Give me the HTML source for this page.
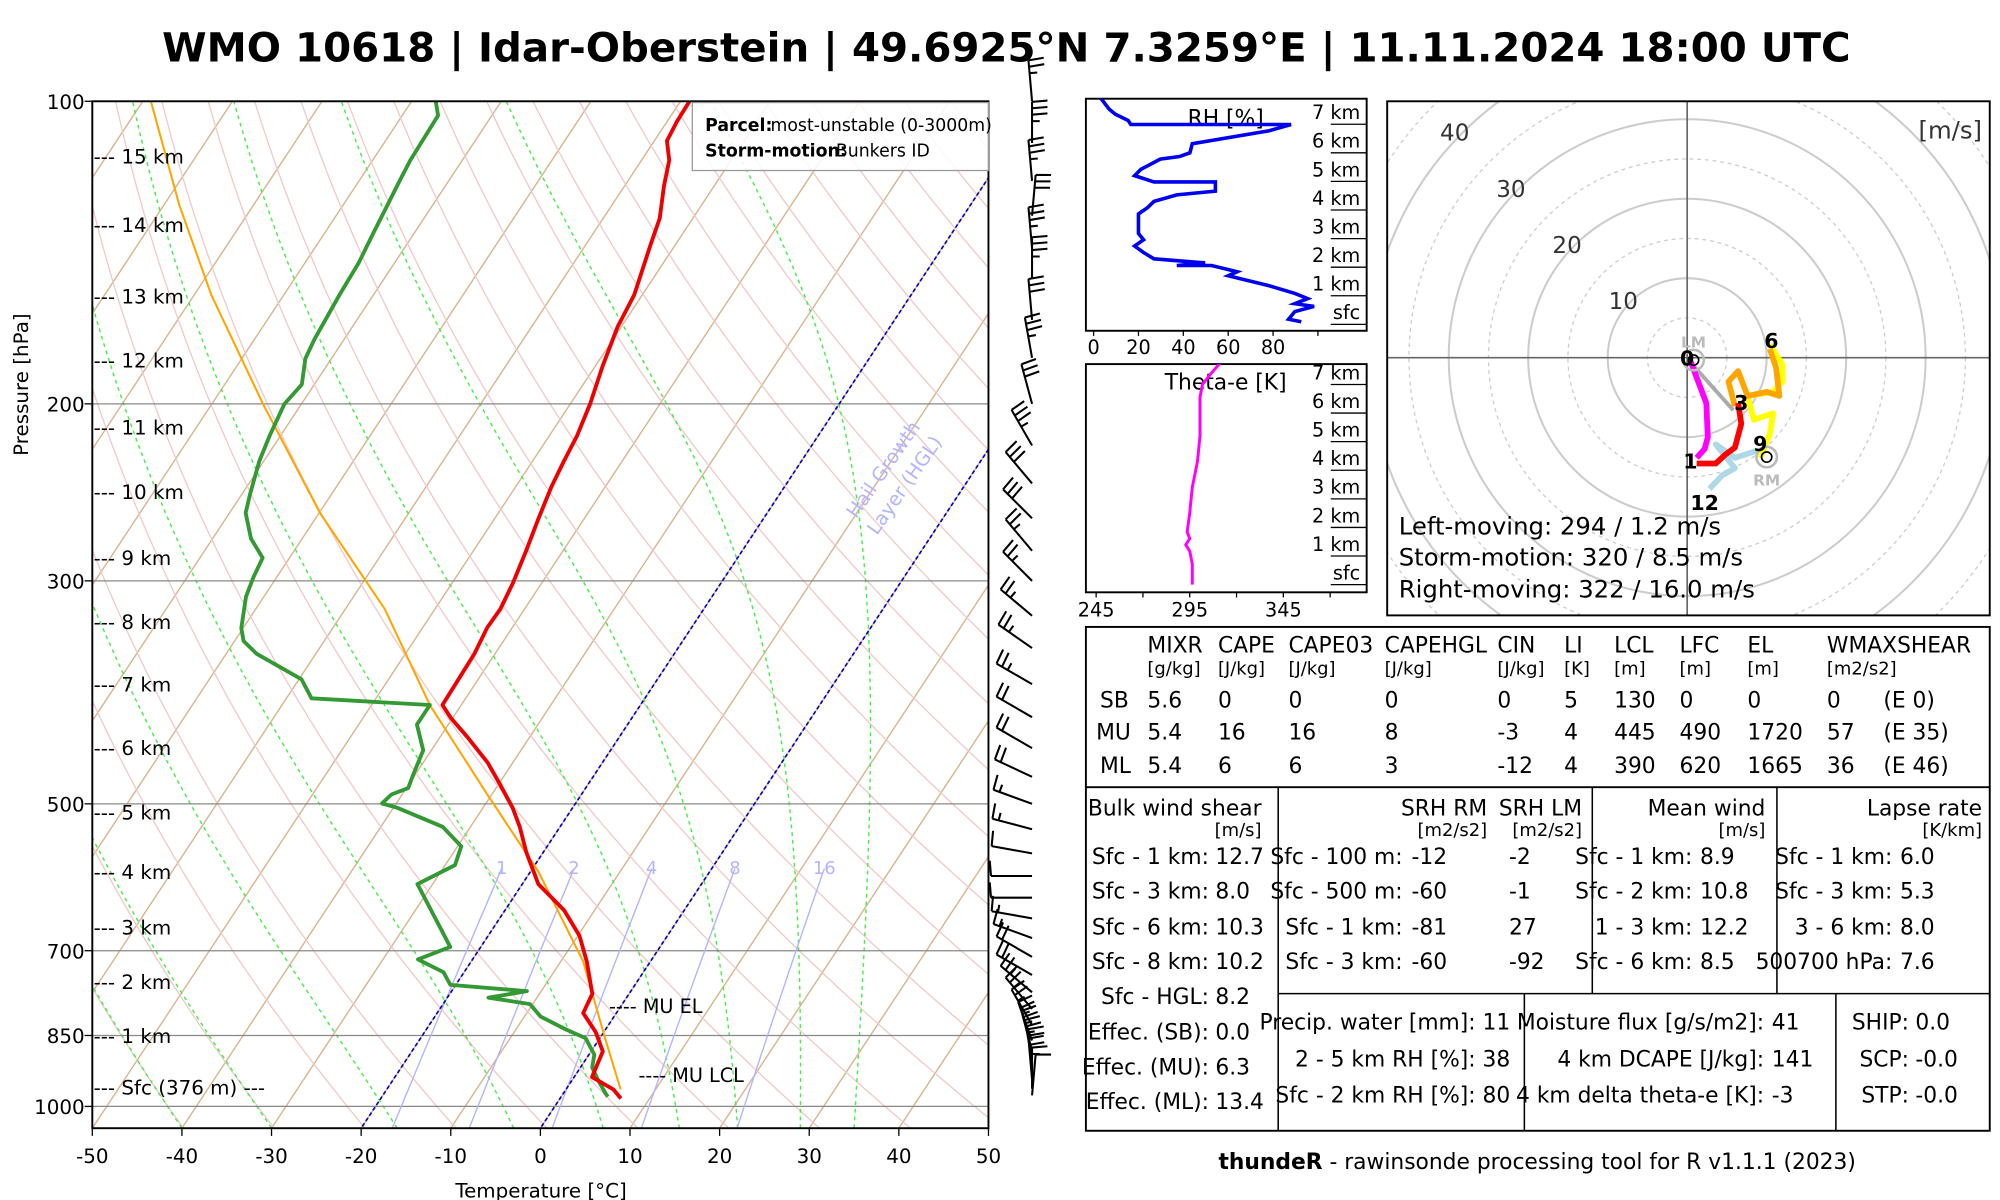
<!DOCTYPE html>
<html><head><meta charset="utf-8"><style>
html,body{margin:0;padding:0;background:#fff;}
svg{display:block;font-family:"DejaVu Sans","Liberation Sans",sans-serif;}
.t{font-size:15.5px;fill:#000;}
.tc{font-size:17px;fill:#000;}
.th{font-size:19px;fill:#000;}
.tk{font-size:15px;fill:#000;}
.tu{font-size:14px;fill:#000;}
</style></head><body>
<svg id="root" width="2000" height="1200" viewBox="0 0 1560 936" preserveAspectRatio="none" xmlns="http://www.w3.org/2000/svg">
<defs>
<clipPath id="skewclip"><rect x="72" y="79" width="699" height="801"/></clipPath>
<clipPath id="hodoclip"><rect x="1082" y="79" width="470" height="401"/></clipPath>
<clipPath id="rhclip"><rect x="847" y="77" width="219" height="181"/></clipPath>
<clipPath id="thclip"><rect x="847" y="284" width="219" height="178"/></clipPath>
</defs>
<text x="785" y="48" text-anchor="middle" font-size="31" font-weight="bold" textLength="1317" lengthAdjust="spacingAndGlyphs">WMO 10618 | Idar-Oberstein | 49.6925°N 7.3259°E | 11.11.2024 18:00 UTC</text>

<g id="skew">
<g id="skewbg" clip-path="url(#skewclip)"></g>
<g id="skewlines" clip-path="url(#skewclip)"></g>
<rect x="72" y="79" width="699" height="801" fill="none" stroke="#000" stroke-width="1.5"/>
<g id="skewaxes"></g>
<text x="422" y="934" text-anchor="middle" class="t">Temperature [°C]</text>
<text transform="translate(22,300) rotate(-90)" text-anchor="middle" class="t">Pressure [hPa]</text>
<g>
<rect x="540" y="80" width="231" height="53" fill="#fff" fill-opacity="0.85" stroke="#999" stroke-width="1"/>
<text x="550" y="102" font-size="13.5" font-weight="bold">Parcel:</text>
<text x="601" y="102" font-size="13.5">most-unstable (0-3000m)</text>
<text x="550" y="122" font-size="13.5" font-weight="bold">Storm-motion:</text>
<text x="652" y="122" font-size="13.5">Bunkers ID</text>
</g>
<text transform="translate(668,405) rotate(-55)" font-size="15" fill="#b4b4ff">Hail Growth</text>
<text transform="translate(684,418) rotate(-55)" font-size="15" fill="#b4b4ff">Layer (HGL)</text>
<text x="475" y="790" font-size="15">---- MU EL</text>
<text x="498" y="844" font-size="15">---- MU LCL</text>
</g>

<g id="barbs"></g>

<g id="rh">
<rect x="847" y="77" width="219" height="181" fill="none" stroke="#000" stroke-width="1.5"/>
<text x="956" y="98" text-anchor="middle" class="tc">RH [%]</text>
</g>
<g id="th">
<rect x="847" y="284" width="219" height="178" fill="none" stroke="#000" stroke-width="1.5"/>
<text x="956" y="304" text-anchor="middle" class="tc">Theta-e [K]</text>
</g>

<g id="hodo">
<g id="hodobg" clip-path="url(#hodoclip)"></g>
<g id="hodolines"></g>
<rect x="1082" y="79" width="470" height="401" fill="none" stroke="#000" stroke-width="1.5"/>
<text x="1546" y="108" text-anchor="end" font-size="19" fill="#333">[m/s]</text>
<text x="1091" y="417" class="th">Left-moving: 294 / 1.2 m/s</text>
<text x="1091" y="441" class="th">Storm-motion: 320 / 8.5 m/s</text>
<text x="1091" y="466" class="th">Right-moving: 322 / 16.0 m/s</text>
</g>

<g id="table">
<rect x="847" y="489" width="705" height="393" fill="none" stroke="#000" stroke-width="1.5"/>
<line x1="847" y1="614" x2="1552" y2="614" stroke="#000" stroke-width="1.5"/>
<line x1="997" y1="614" x2="997" y2="882" stroke="#000" stroke-width="1.2"/>
<line x1="1242" y1="614" x2="1242" y2="775" stroke="#000" stroke-width="1.2"/>
<line x1="1386" y1="614" x2="1386" y2="775" stroke="#000" stroke-width="1.2"/>
<line x1="997" y1="775" x2="1552" y2="775" stroke="#000" stroke-width="1.2"/>
<line x1="1189" y1="775" x2="1189" y2="882" stroke="#000" stroke-width="1.2"/>
<line x1="1432" y1="775" x2="1432" y2="882" stroke="#000" stroke-width="1.2"/>
<g>
<text x="895" y="509" class="tc">MIXR</text><text x="950" y="509" class="tc">CAPE</text><text x="1005" y="509" class="tc">CAPE03</text><text x="1080" y="509" class="tc">CAPEHGL</text><text x="1168" y="509" class="tc">CIN</text><text x="1220" y="509" class="tc">LI</text><text x="1259" y="509" class="tc">LCL</text><text x="1310" y="509" class="tc">LFC</text><text x="1363" y="509" class="tc">EL</text><text x="1425" y="509" class="tc">WMAXSHEAR</text>
<text x="895" y="526" class="tu">[g/kg]</text><text x="950" y="526" class="tu">[J/kg]</text><text x="1005" y="526" class="tu">[J/kg]</text><text x="1080" y="526" class="tu">[J/kg]</text><text x="1168" y="526" class="tu">[J/kg]</text><text x="1220" y="526" class="tu">[K]</text><text x="1259" y="526" class="tu">[m]</text><text x="1310" y="526" class="tu">[m]</text><text x="1363" y="526" class="tu">[m]</text><text x="1425" y="526" class="tu">[m2/s2]</text>
<text x="858" y="552" class="tc">SB</text><text x="895" y="552" class="tc">5.6</text><text x="950" y="552" class="tc">0</text><text x="1005" y="552" class="tc">0</text><text x="1080" y="552" class="tc">0</text><text x="1168" y="552" class="tc">0</text><text x="1220" y="552" class="tc">5</text><text x="1259" y="552" class="tc">130</text><text x="1310" y="552" class="tc">0</text><text x="1363" y="552" class="tc">0</text><text x="1425" y="552" class="tc">0</text><text x="1469" y="552" class="tc">(E 0)</text>
<text x="855" y="577" class="tc">MU</text><text x="895" y="577" class="tc">5.4</text><text x="950" y="577" class="tc">16</text><text x="1005" y="577" class="tc">16</text><text x="1080" y="577" class="tc">8</text><text x="1168" y="577" class="tc">-3</text><text x="1220" y="577" class="tc">4</text><text x="1259" y="577" class="tc">445</text><text x="1310" y="577" class="tc">490</text><text x="1363" y="577" class="tc">1720</text><text x="1425" y="577" class="tc">57</text><text x="1469" y="577" class="tc">(E 35)</text>
<text x="858" y="603" class="tc">ML</text><text x="895" y="603" class="tc">5.4</text><text x="950" y="603" class="tc">6</text><text x="1005" y="603" class="tc">6</text><text x="1080" y="603" class="tc">3</text><text x="1168" y="603" class="tc">-12</text><text x="1220" y="603" class="tc">4</text><text x="1259" y="603" class="tc">390</text><text x="1310" y="603" class="tc">620</text><text x="1363" y="603" class="tc">1665</text><text x="1425" y="603" class="tc">36</text><text x="1469" y="603" class="tc">(E 46)</text>
</g>
<g text-anchor="end">
<text x="984" y="636" class="tc">Bulk wind shear</text><text x="984" y="652" class="tu">[m/s]</text>
<text x="1160" y="636" class="tc">SRH RM</text><text x="1234" y="636" class="tc">SRH LM</text>
<text x="1160" y="652" class="tu">[m2/s2]</text><text x="1234" y="652" class="tu">[m2/s2]</text>
<text x="1377" y="636" class="tc">Mean wind</text><text x="1377" y="652" class="tu">[m/s]</text>
<text x="1546" y="636" class="tc">Lapse rate</text><text x="1546" y="652" class="tu">[K/km]</text>
</g>
<g text-anchor="end">
<text x="943" y="674" class="tc">Sfc - 1 km:</text><text x="943" y="701" class="tc">Sfc - 3 km:</text><text x="943" y="729" class="tc">Sfc - 6 km:</text><text x="943" y="756" class="tc">Sfc - 8 km:</text><text x="943" y="783" class="tc">Sfc - HGL:</text><text x="943" y="811" class="tc">Effec. (SB):</text><text x="943" y="838" class="tc">Effec. (MU):</text><text x="943" y="865" class="tc">Effec. (ML):</text>
<text x="1094" y="674" class="tc">Sfc - 100 m:</text><text x="1094" y="701" class="tc">Sfc - 500 m:</text><text x="1094" y="729" class="tc">Sfc - 1 km:</text><text x="1094" y="756" class="tc">Sfc - 3 km:</text>
<text x="1320" y="674" class="tc">Sfc - 1 km:</text><text x="1320" y="701" class="tc">Sfc - 2 km:</text><text x="1320" y="729" class="tc">1 - 3 km:</text><text x="1320" y="756" class="tc">Sfc - 6 km:</text>
<text x="1476" y="674" class="tc">Sfc - 1 km:</text><text x="1476" y="701" class="tc">Sfc - 3 km:</text><text x="1476" y="729" class="tc">3 - 6 km:</text><text x="1476" y="756" class="tc">500700 hPa:</text>
<text x="1178" y="803" class="tc">Precip. water [mm]: 11</text><text x="1178" y="832" class="tc">2 - 5 km RH [%]: 38</text><text x="1178" y="860" class="tc">Sfc - 2 km RH [%]: 80</text>
<text x="1376" y="803" class="tc">Moisture flux [g/s/m2]:</text><text x="1376" y="832" class="tc">4 km DCAPE [J/kg]:</text><text x="1376" y="860" class="tc">4 km delta theta-e [K]:</text>
<text x="1489" y="803" class="tc">SHIP:</text><text x="1489" y="832" class="tc">SCP:</text><text x="1489" y="860" class="tc">STP:</text>
</g>
<g>
<text x="948" y="674" class="tc">12.7</text><text x="948" y="701" class="tc">8.0</text><text x="948" y="729" class="tc">10.3</text><text x="948" y="756" class="tc">10.2</text><text x="948" y="783" class="tc">8.2</text><text x="948" y="811" class="tc">0.0</text><text x="948" y="838" class="tc">6.3</text><text x="948" y="865" class="tc">13.4</text>
<text x="1101" y="674" class="tc">-12</text><text x="1101" y="701" class="tc">-60</text><text x="1101" y="729" class="tc">-81</text><text x="1101" y="756" class="tc">-60</text>
<text x="1177" y="674" class="tc">-2</text><text x="1177" y="701" class="tc">-1</text><text x="1177" y="729" class="tc">27</text><text x="1177" y="756" class="tc">-92</text>
<text x="1326" y="674" class="tc">8.9</text><text x="1326" y="701" class="tc">10.8</text><text x="1326" y="729" class="tc">12.2</text><text x="1326" y="756" class="tc">8.5</text>
<text x="1482" y="674" class="tc">6.0</text><text x="1482" y="701" class="tc">5.3</text><text x="1482" y="729" class="tc">8.0</text><text x="1482" y="756" class="tc">7.6</text>
<text x="1382" y="803" class="tc">41</text><text x="1382" y="832" class="tc">141</text><text x="1382" y="860" class="tc">-3</text>
<text x="1494" y="803" class="tc">0.0</text><text x="1494" y="832" class="tc">-0.0</text><text x="1494" y="860" class="tc">-0.0</text>
</g>
</g>
<text x="1199" y="912" text-anchor="middle" font-size="17"><tspan font-weight="bold">thundeR</tspan> - rawinsonde processing tool for R v1.1.1 (2023)</text>
</svg>
<script>
// ---------- data ----------
const tempP=[100,104.8,109.5,114.5,121.4,130.7,138.6,155.8,167.7,183.2,200,215.2,228,242,260.5,280.4,301.7,320,334,354.6,398.7,410.7,429.4,455,478.5,504.5,527,558.6,601,638,676.5,717.5,772.7,807.6,843.5,881.5,935,962,982];
const tempT=[-59,-58.9,-58.6,-56.9,-55.6,-53.7,-52.8,-50.9,-50.4,-49.2,-47.8,-46.9,-46.5,-46,-45.1,-44.1,-43.2,-42.7,-42.8,-42.3,-42.1,-40.2,-36.9,-32.8,-29.8,-26.7,-24.5,-21.9,-18.2,-13.4,-9.8,-7.1,-4.1,-3.7,-0.9,1.3,2,5.3,6.8];
const dewP=[100,103.3,114.5,119.6,134.6,144.8,155.8,172.6,180.3,191.3,200,215.2,228,245.8,256.8,272.4,284.6,297.5,311,334.4,344.3,354.6,376,392.6,398.7,417,442.3,468.5,482.3,489.4,499.6,504.5,527,551,575.3,601,694,714,735.3,757,768,779.6,791,814,838.5,855,888,914.5,941.5,969,978];
const dewT=[-87.3,-86,-85.8,-85.5,-84.6,-84,-83.8,-83.3,-82.9,-81.4,-81.9,-81.2,-80.5,-79.1,-78.2,-75.7,-73,-72.6,-72,-70.2,-69,-66.6,-59.7,-57.2,-43.5,-43.5,-40.9,-40.2,-39.8,-41.2,-41.6,-39.6,-33.1,-29.6,-28.9,-31.7,-23.4,-26.1,-22.3,-20.6,-11.6,-15.4,-10.3,-8.2,-4.4,-1.6,0.6,1.3,2.9,4.6,5.2];
const parcelP=[100,126.8,155.8,200,256.8,320,398.7,489.4,584.3,717.5,855.6,962];
const parcelT=[-119.1,-108.3,-98.1,-84.3,-69.9,-55.6,-43.5,-30.5,-19.1,-7.5,0.6,6.1];
const tempTicks=[-50,-40,-30,-20,-10,0,10,20,30,40,50];
const presTicks=[100,200,300,500,700,850,1000];
const kmLabels=["--- 15 km","--- 14 km","--- 13 km","--- 12 km","--- 11 km","--- 10 km","--- 9 km","--- 8 km","--- 7 km","--- 6 km","--- 5 km","--- 4 km","--- 3 km","--- 2 km","--- 1 km","--- Sfc (376 m) ---"];
const kmPres=[115,134.5,158.5,183.5,214,248,288.5,334,385.5,446,516.5,592,672.5,762,862,970];
const mixRatios=[1,2,4,8,16];
const moistStarts=[-50,-40,-30,-16,-3,7,15.5,22,29,35];
const hglIsotherms=[-20,0];
// wind barbs
const barbP=[100,110,120,130,140,150,165,180,200,220,240,260,280,300,325,350,380,410,440,470,500,530,560,590,620,650,680,710,740,770,800,830,860,880,900,920,940,960,975];
const barbDir=[355,0,355,5,355,0,355,350,345,330,320,315,320,315,310,305,300,300,300,295,290,285,280,270,270,280,290,300,300,310,320,330,340,345,350,355,355,0,5];
const barbSpd=[25,35,35,30,35,35,30,35,30,35,30,30,25,25,25,25,25,20,20,20,15,15,10,10,10,15,15,20,20,25,25,25,25,25,25,20,20,15,10];
// RH profile
const rhH=[7.94,7.53,7.35,7.13,6.99,6.99,6.77,6.32,6.0,5.87,5.78,5.42,5.2,4.98,4.98,4.66,4.53,4.3,4.08,3.86,3.18,2.96,2.74,2.51,2.29,2.15,2.06,2.06,1.84,1.7,1.35,1.08,0.9,0.72,0.63,0.45,0.18,0.09];
const rhV=[2.9,6.9,9.7,15.4,16.6,88,78.3,44,42.9,38.3,29.7,21.1,18.3,26.9,54.3,54.3,37.1,26.9,24,20,20,22.3,18.3,22.3,26.9,49.7,37.1,52.6,64,60,78.3,89.7,95.4,89.7,98.3,89.7,86.9,92.6];
const rhTicks=[0,20,40,60,80];
const heightLabels=["7 km","6 km","5 km","4 km","3 km","2 km","1 km","sfc"];
const heightVals=[7,6,5,4,3,2,1,0];
// theta-e
const thH=[7.76,7.4,7.0,6.55,5.2,4.3,3.41,2.51,1.84,1.61,1.39,1.17,0.72,0];
const thV=[311.4,306.6,301.8,300.5,300.5,299.1,296.4,295,293.6,295,292.9,295,296.4,296.4];
const thTicks=[245,295,345];
// hodograph (u,v m/s)
const hodoRings=[5,10,15,20,25,30,35,40,45,50,55,60];
const ringLabels=[10,20,30,40];
const seg01U=[0.4,1.2,2.4,2.6,2.2,1.2], seg01V=[-0.4,-2.5,-5.7,-10,-11.5,-12.6];
const seg13U=[1.2,3.6,4.8,6,6.8,6.4], seg13V=[-13.3,-13.3,-12.2,-11.3,-8.3,-5.7];
const seg36U=[6,5.2,6.4,7.6,10,11.6,11.2,10.4], seg36V=[-6.1,-3,-1.7,-4.8,-4.3,-4.8,-1.3,1.1];
const seg69U=[10.4,12,12,10.8,7.6,8.4,10.8,10.4,9.2], seg69V=[1.7,-0.9,-3,-4.3,-4.8,-7.8,-7,-9.6,-12.6];
const seg912U=[8.8,6,3.6,6,4.4,2.8], seg912V=[-11.7,-12.6,-10.9,-13.9,-14.8,-16.5];
const hodoMarkLabels=["0","1","3","6","9","12"];
const hodoMarkU=[0,0.4,6.8,10.6,9.2,2.2];
const hodoMarkV=[0,-13,-5.6,2.2,-10.8,-18.2];
const lmU=0.8, lmV=-0.3, rmU=10, rmV=-12.5;

// ---------- helpers ----------
const NS="http://www.w3.org/2000/svg";
function mk(tag,attrs,parent){const e=document.createElementNS(NS,tag);for(const k in attrs)e.setAttribute(k,attrs[k]);parent.appendChild(e);return e;}
function yP(p){return 79+784*Math.log10(p/100);}
function xT(T,p){return 72+(T+50)*6.99+0.66*(880-yP(p));}
function pathFrom(ps,ts){return ps.map((p,i)=>(i?"L":"M")+xT(ts[i],p).toFixed(1)+","+yP(p).toFixed(1)).join("");}
const bg=document.getElementById('skewbg'), ln=document.getElementById('skewlines'), ax=document.getElementById('skewaxes');
const pGrid=[];for(let p=1060;p>=95;p-=5)pGrid.push(p);

for(let T=-160;T<=50;T+=10){const e=mk('line',{x1:xT(T,1060),y1:yP(1060),x2:xT(T,95),y2:yP(95),stroke:'#d9b48f','stroke-width':1.1},bg);

}
for(let th=200;th<=520;th+=10){const d=pGrid.map((p,i)=>(i?"L":"M")+xT(th*Math.pow(p/1000,0.286)-273.15,p).toFixed(1)+","+yP(p).toFixed(1)).join("");
const e=mk('path',{d:d,fill:'none',stroke:'#f0c8c8','stroke-width':1},bg);

}
function es(T){return 6.112*Math.exp(17.67*T/(T+243.5));}
function dTdp(Tc,p){const T=Tc+273.15;const e=es(Tc);const w=0.622*e/(p-e);const Rd=287,cp=1004,L=2.5e6;return (Rd*T+L*w)/(p*(cp+L*L*w*0.622/(Rd*T*T)));}
moistStarts.forEach(T0=>{let T=T0,p=1051;let d="M"+xT(T,p).toFixed(1)+","+yP(p).toFixed(1);
while(p>100){const dp=-5;T+=dTdp(T,p)*dp;p+=dp;d+="L"+xT(T,p).toFixed(1)+","+yP(p).toFixed(1);}
const e=mk('path',{d:d,fill:'none',stroke:'#44ee44','stroke-width':1.1,'stroke-dasharray':'3,3'},bg);

});
presTicks.forEach(p=>{const e=mk('line',{x1:72,x2:771,y1:yP(p),y2:yP(p),stroke:'#888','stroke-width':1},bg);

});
mixRatios.forEach(w=>{const pts=[];for(let p=1060;p>=580;p-=10){const e=w*p/(622+w);const l=Math.log(e/6.112);pts.push([243.5*l/(17.67-l),p]);}
const e=mk('path',{d:pts.map((q,i)=>(i?"L":"M")+xT(q[0],q[1]).toFixed(1)+","+yP(q[1]).toFixed(1)).join(""),fill:'none',stroke:'#b4b4ff','stroke-width':1.1},bg);


const last=pts[pts.length-1];
const t=mk('text',{x:xT(last[0],last[1]),y:yP(last[1])+4,'text-anchor':'middle','font-size':14,fill:'#b4b4ff'},bg);t.textContent=w;

});
hglIsotherms.forEach(T=>{const e=mk('line',{x1:xT(T,1060),y1:yP(1060),x2:xT(T,95),y2:yP(95),stroke:'#0000cc','stroke-width':1.3,'stroke-dasharray':'3,2'},ln);

});
let e;
e=mk('path',{d:pathFrom(parcelP,parcelT),fill:'none',stroke:'#ffa500','stroke-width':1.6},ln);


e=mk('path',{d:pathFrom(dewP,dewT),fill:'none',stroke:'#339933','stroke-width':3,'stroke-linejoin':'round'},ln);


e=mk('path',{d:pathFrom(tempP,tempT),fill:'none',stroke:'#ee0000','stroke-width':3,'stroke-linejoin':'round'},ln);


tempTicks.forEach(T=>{const x=72+(T+50)*6.99;mk('line',{x1:x,x2:x,y1:880,y2:886,stroke:'#000'},ax);
const t=mk('text',{x:x,y:907,'text-anchor':'middle',class:'t'},ax);t.textContent=T;

});
presTicks.forEach(p=>{mk('line',{x1:66,x2:72,y1:yP(p),y2:yP(p),stroke:'#000'},ax);
const t=mk('text',{x:66,y:yP(p)+6,'text-anchor':'end',class:'t'},ax);t.textContent=p;

});
kmLabels.forEach((s,i)=>{const t=mk('text',{x:73,y:yP(kmPres[i])+1,'font-size':15.5},ax);t.textContent=s;

});

const bb=document.getElementById('barbs');
barbP.forEach((p,i)=>{const d=barbDir[i]*Math.PI/180,L=32;const sx=Math.sin(d),sy=-Math.cos(d);const bx=805,by=yP(p);
const tx=bx+sx*L,ty=by+sy*L;const px=Math.cos(d),py=Math.sin(d);
let dstr="M"+bx.toFixed(1)+","+by.toFixed(1)+"L"+tx.toFixed(1)+","+ty.toFixed(1);
let s=barbSpd[i],pos=0;
while(s>=50){const a=pos*5;dstr+="M"+(tx-sx*a)+","+(ty-sy*a)+"l"+(px*12+sx*-3)+","+(py*12+sy*-3)+"L"+(tx-sx*(a+6))+","+(ty-sy*(a+6));s-=50;pos+=1.6;}
while(s>=10){const a=pos*5;dstr+="M"+(tx-sx*a)+","+(ty-sy*a)+"l"+(px*12+sx*1)+","+(py*12+sy*1);s-=10;pos++;}
if(s>=5){if(pos===0)pos=1;const a=pos*5;dstr+="M"+(tx-sx*a)+","+(ty-sy*a)+"l"+(px*6)+","+(py*6);}
const g=mk('path',{d:dstr,fill:'none',stroke:'#000','stroke-width':1.6},bb);

});

const rh=document.getElementById('rh');
function rx(v){return 853+v*1.75;} function ryRH(h){return 253-h*22.3;}
rhTicks.forEach(v=>{mk('line',{x1:rx(v),x2:rx(v),y1:258,y2:262,stroke:'#000'},rh);const t=mk('text',{x:rx(v),y:276,'text-anchor':'middle',class:'tk'},rh);t.textContent=v;

});
mk('line',{x1:rx(100),x2:rx(100),y1:258,y2:262,stroke:'#000'},rh);
heightVals.forEach((h,i)=>{mk('line',{x1:1038,x2:1066,y1:ryRH(h),y2:ryRH(h),stroke:'#000','stroke-width':1},rh);
const t=mk('text',{x:1061,y:ryRH(h)-4,'text-anchor':'end',class:'tk'},rh);t.textContent=heightLabels[i];

});
e=mk('path',{d:rhH.map((h,i)=>(i?"L":"M")+rx(rhV[i]).toFixed(1)+","+ryRH(h).toFixed(1)).join(""),fill:'none',stroke:'#0000ee','stroke-width':2.8,'clip-path':'url(#rhclip)'},rh);


const th=document.getElementById('th');
function tx2(v){return 855+(v-245)*1.46;} function ryTH(h){return 456-h*22.3;}
thTicks.forEach(v=>{const t=mk('text',{x:tx2(v),y:481,'text-anchor':'middle',class:'tk'},th);t.textContent=v;

});
[245,270,295,320,345,370].forEach(v=>mk('line',{x1:tx2(v),x2:tx2(v),y1:462,y2:466,stroke:'#000'},th));
heightVals.forEach((h,i)=>{mk('line',{x1:1038,x2:1066,y1:ryTH(h),y2:ryTH(h),stroke:'#000','stroke-width':1},th);
const t=mk('text',{x:1061,y:ryTH(h)-4,'text-anchor':'end',class:'tk'},th);t.textContent=heightLabels[i];

});
e=mk('path',{d:thH.map((h,i)=>(i?"L":"M")+tx2(thV[i]).toFixed(1)+","+ryTH(h).toFixed(1)).join(""),fill:'none',stroke:'#ff00ff','stroke-width':2.3,'clip-path':'url(#thclip)'},th);



const hb=document.getElementById('hodobg'),hl=document.getElementById('hodolines');
const HX=1316,HY=279,HS=6.2;function hx(u){return HX+u*HS;}function hy(v){return HY-v*HS;}
hodoRings.forEach(r=>{const c=mk('circle',{cx:HX,cy:HY,r:r*HS,fill:'none',stroke:'#cccccc','stroke-width':r%10?1:1.6,'stroke-dasharray':r%10?'3,3':'none'},hb);

});
mk('line',{x1:1082,x2:1552,y1:HY,y2:HY,stroke:'#666','stroke-width':1.3},hb);
mk('line',{x1:HX,x2:HX,y1:79,y2:480,stroke:'#666','stroke-width':1.3},hb);
ringLabels.forEach(r=>{const t=mk('text',{x:HX-r*HS*0.707-6,y:HY-r*HS*0.707+6,'text-anchor':'middle','font-size':18,fill:'#333'},hb);t.textContent=r;

});
function seg(U,V,col){return mk('path',{d:U.map((u,i)=>(i?"L":"M")+hx(u).toFixed(1)+","+hy(V[i]).toFixed(1)).join(""),fill:'none',stroke:col,'stroke-width':4.5,'stroke-linejoin':'round'},hl);}
e=mk('line',{x1:hx(0.6),y1:hy(-0.8),x2:hx(5.8),y2:hy(-6.6),stroke:'#aaaaaa','stroke-width':3},hl);


e=seg(seg912U,seg912V,'#add8e6');


e=seg(seg69U,seg69V,'#ffff00');


e=seg(seg36U,seg36V,'#ffa500');


e=seg(seg13U,seg13V,'#ff0000');


e=seg(seg01U,seg01V,'#ff00ff');


[[lmU,lmV,'LM',-10],[rmU,rmV,'RM',22]].forEach(m=>{mk('circle',{cx:hx(m[0]),cy:hy(m[1]),r:8,fill:'none',stroke:'#bbb','stroke-width':2},hl);
mk('circle',{cx:hx(m[0]),cy:hy(m[1]),r:4,fill:'none',stroke:'#000','stroke-width':1.3},hl);
const t=mk('text',{x:hx(m[0]),y:hy(m[1])+m[3],'text-anchor':'middle','font-size':12,'font-weight':'bold',fill:'#bbb'},hl);t.textContent=m[2];

});
hodoMarkLabels.forEach((s,i)=>{const t=mk('text',{x:hx(hodoMarkU[i]),y:hy(hodoMarkV[i])+6,'text-anchor':'middle','font-size':16,'font-weight':'bold'},hl);t.textContent=s;

});
</script>
</body></html>
